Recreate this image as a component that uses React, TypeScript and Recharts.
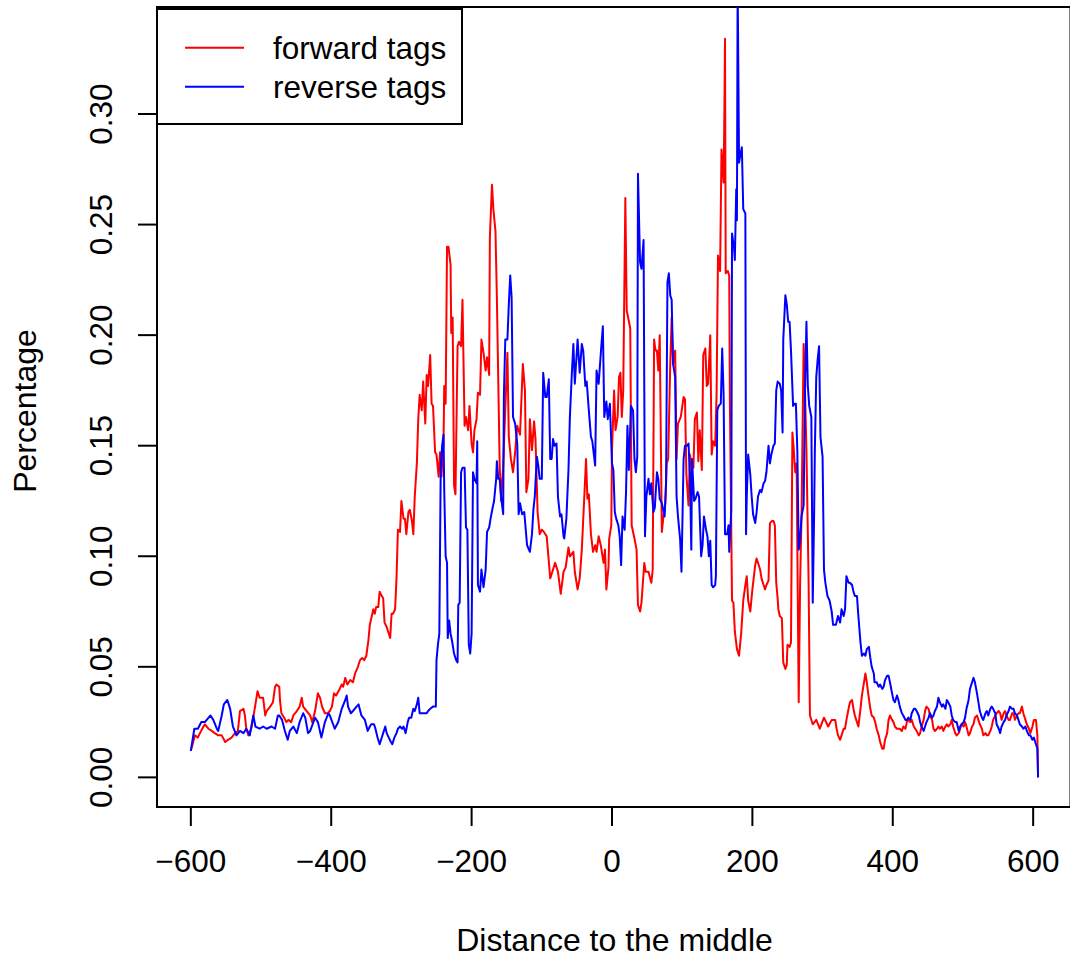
import React from 'react';
import { LineChart, Line, XAxis, YAxis, ReferenceArea, Legend } from 'recharts';

// [distance, percentage]
const forwardTags: [number, number][] = [
  [-600,0.012],[-594,0.019],[-590,0.018],[-587,0.020],[-582,0.023],[-580,0.024],[-575,0.022],[-570,0.021],[-566,0.020],[-561,0.019],
  [-556,0.019],[-551,0.016],[-547,0.017],[-542,0.018],[-537,0.020],[-533,0.021],[-530,0.030],[-525,0.031],[-523,0.028],[-521,0.022],
  [-518,0.019],[-514,0.022],[-509,0.031],[-505,0.039],[-502,0.036],[-497,0.036],[-494,0.028],[-492,0.030],[-487,0.032],[-483,0.034],
  [-480,0.041],[-478,0.042],[-474,0.041],[-473,0.035],[-471,0.029],[-467,0.027],[-464,0.025],[-461,0.026],[-457,0.025],[-454,0.028],
  [-449,0.030],[-445,0.032],[-442,0.036],[-440,0.032],[-435,0.030],[-430,0.028],[-427,0.025],[-423,0.030],[-421,0.034],[-419,0.038],
  [-416,0.036],[-413,0.032],[-409,0.029],[-405,0.029],[-402,0.030],[-399,0.032],[-396,0.038],[-393,0.037],[-388,0.040],[-385,0.042],
  [-383,0.041],[-380,0.045],[-377,0.042],[-373,0.044],[-369,0.043],[-366,0.047],[-362,0.050],[-359,0.053],[-356,0.054],[-353,0.053],
  [-350,0.055],[-347,0.062],[-345,0.069],[-340,0.076],[-338,0.074],[-336,0.077],[-333,0.077],[-331,0.084],[-328,0.082],[-326,0.081],
  [-324,0.070],[-321,0.068],[-319,0.066],[-316,0.063],[-314,0.074],[-312,0.074],[-309,0.076],[-307,0.090],[-305,0.112],[-302,0.111],
  [-300,0.125],[-297,0.117],[-295,0.117],[-293,0.110],[-290,0.120],[-288,0.121],[-285,0.116],[-283,0.110],[-281,0.127],[-278,0.142],
  [-276,0.162],[-274,0.173],[-271,0.166],[-269,0.179],[-266,0.160],[-264,0.182],[-262,0.177],[-259,0.191],[-257,0.169],[-255,0.168],
  [-252,0.147],[-250,0.146],[-247,0.136],[-245,0.147],[-243,0.136],[-240,0.152],[-239,0.177],[-237,0.169],[-235,0.240],[-233,0.240],
  [-230,0.232],[-229,0.201],[-227,0.208],[-225,0.132],[-223,0.128],[-220,0.195],[-218,0.197],[-215,0.195],[-213,0.216],[-210,0.159],
  [-208,0.163],[-205,0.157],[-203,0.168],[-200,0.151],[-198,0.147],[-196,0.157],[-193,0.162],[-191,0.174],[-188,0.173],[-186,0.198],
  [-183,0.192],[-180,0.184],[-178,0.190],[-175,0.182],[-174,0.244],[-171,0.268],[-169,0.257],[-166,0.247],[-164,0.217],[-160,0.141],
  [-158,0.125],[-155,0.141],[-152,0.167],[-149,0.192],[-147,0.154],[-144,0.144],[-141,0.138],[-138,0.147],[-135,0.159],[-133,0.157],
  [-131,0.155],[-127,0.187],[-124,0.175],[-122,0.129],[-119,0.135],[-117,0.162],[-114,0.148],[-111,0.161],[-109,0.153],[-106,0.120],
  [-103,0.110],[-100,0.112],[-97,0.111],[-93,0.109],[-88,0.090],[-84,0.094],[-81,0.097],[-77,0.093],[-73,0.083],[-69,0.093],
  [-66,0.095],[-62,0.104],[-60,0.100],[-55,0.102],[-53,0.093],[-49,0.085],[-46,0.090],[-43,0.103],[-39,0.130],[-37,0.144],
  [-35,0.126],[-33,0.128],[-30,0.110],[-27,0.102],[-24,0.105],[-22,0.102],[-19,0.109],[-16,0.105],[-12,0.097],[-10,0.103],
  [-8,0.085],[-5,0.095],[-4,0.108],[-1,0.114],[0,0.148],[3,0.175],[5,0.157],[8,0.163],[10,0.181],[12,0.183],
  [14,0.163],[16,0.175],[19,0.262],[21,0.211],[23,0.208],[26,0.203],[28,0.114],[32,0.108],[35,0.103],[37,0.078],
  [40,0.075],[42,0.079],[46,0.097],[48,0.093],[52,0.093],[56,0.088],[58,0.094],[60,0.198],[62,0.193],[64,0.193],
  [66,0.184],[68,0.200],[71,0.111],[73,0.117],[76,0.124],[78,0.142],[80,0.144],[83,0.187],[85,0.208],[87,0.187],
  [90,0.193],[92,0.144],[94,0.160],[98,0.163],[102,0.172],[104,0.171],[106,0.137],[109,0.123],[111,0.146],[114,0.140],
  [116,0.140],[118,0.162],[121,0.165],[123,0.143],[125,0.157],[128,0.139],[130,0.191],[133,0.194],[135,0.177],[137,0.178],
  [140,0.200],[142,0.146],[144,0.152],[147,0.150],[149,0.173],[151,0.236],[154,0.229],[156,0.284],[159,0.269],[160,0.298],
  [161,0.334],[162,0.228],[165,0.229],[167,0.227],[168,0.168],[171,0.080],[173,0.079],[175,0.066],[178,0.058],[181,0.055],
  [184,0.065],[187,0.080],[190,0.087],[192,0.091],[194,0.080],[197,0.075],[200,0.085],[204,0.096],[206,0.099],[208,0.097],
  [211,0.094],[213,0.090],[216,0.087],[218,0.085],[220,0.087],[223,0.089],[225,0.115],[228,0.116],[230,0.116],[232,0.114],
  [234,0.088],[236,0.081],[237,0.076],[239,0.073],[242,0.072],[244,0.052],[247,0.049],[249,0.051],[250,0.060],[253,0.059],
  [255,0.061],[257,0.156],[259,0.148],[261,0.138],[263,0.142],[266,0.034],[268,0.088],[270,0.118],[273,0.196],[275,0.174],
  [277,0.148],[280,0.091],[282,0.028],[286,0.024],[291,0.026],[296,0.022],[302,0.027],[308,0.023],[313,0.026],[318,0.026],
  [320,0.022],[322,0.019],[325,0.017],[327,0.019],[330,0.022],[332,0.022],[334,0.026],[337,0.031],[339,0.034],[342,0.035],
  [344,0.031],[346,0.028],[349,0.025],[351,0.023],[354,0.031],[356,0.037],[359,0.043],[361,0.047],[363,0.043],[365,0.038],
  [368,0.031],[370,0.028],[373,0.027],[375,0.025],[377,0.022],[380,0.019],[382,0.016],[385,0.013],[387,0.013],[389,0.017],
  [392,0.020],[394,0.026],[396,0.028],[399,0.026],[401,0.025],[403,0.023],[406,0.022],[408,0.022],[410,0.022],[413,0.021],
  [415,0.023],[418,0.022],[420,0.025],[422,0.026],[425,0.025],[427,0.026],[430,0.023],[432,0.022],[434,0.021],[437,0.019],
  [439,0.020],[441,0.023],[444,0.026],[446,0.030],[448,0.032],[451,0.031],[453,0.028],[456,0.026],[458,0.022],[460,0.021],
  [463,0.022],[465,0.023],[467,0.022],[470,0.023],[472,0.021],[475,0.023],[477,0.024],[479,0.023],[482,0.024],[484,0.026],
  [486,0.023],[489,0.020],[491,0.019],[494,0.020],[496,0.022],[498,0.024],[501,0.023],[503,0.025],[505,0.023],[508,0.019],
  [510,0.020],[513,0.023],[515,0.024],[517,0.027],[520,0.028],[522,0.026],[524,0.024],[527,0.022],[529,0.019],[532,0.020],
  [534,0.019],[536,0.019],[539,0.021],[541,0.023],[543,0.026],[546,0.028],[548,0.029],[551,0.030],[553,0.029],[555,0.026],
  [558,0.029],[560,0.030],[562,0.028],[565,0.026],[567,0.026],[570,0.029],[572,0.029],[574,0.026],[577,0.028],[579,0.029],
  [581,0.029],[584,0.032],[586,0.029],[589,0.026],[591,0.024],[594,0.022],[596,0.020],[599,0.023],[601,0.026],[604,0.026],
  [606,0.019],[607,0.000],
];

const reverseTags: [number, number][] = [
  [-600,0.012],[-595,0.022],[-590,0.022],[-585,0.025],[-580,0.025],[-572,0.028],[-568,0.026],[-563,0.022],[-561,0.021],[-556,0.028],
  [-553,0.033],[-548,0.035],[-544,0.031],[-540,0.023],[-535,0.019],[-530,0.021],[-525,0.020],[-521,0.022],[-516,0.019],[-511,0.028],
  [-508,0.023],[-502,0.022],[-497,0.023],[-492,0.022],[-485,0.023],[-480,0.022],[-476,0.028],[-474,0.028],[-470,0.026],[-466,0.021],
  [-462,0.017],[-459,0.021],[-454,0.023],[-449,0.020],[-445,0.025],[-440,0.029],[-437,0.027],[-433,0.020],[-430,0.021],[-423,0.027],
  [-419,0.025],[-414,0.018],[-409,0.025],[-404,0.029],[-402,0.028],[-395,0.022],[-390,0.025],[-385,0.031],[-380,0.035],[-378,0.037],
  [-376,0.032],[-372,0.029],[-369,0.030],[-364,0.032],[-361,0.033],[-357,0.028],[-352,0.026],[-348,0.021],[-345,0.023],[-343,0.024],
  [-339,0.024],[-337,0.022],[-334,0.018],[-331,0.015],[-328,0.018],[-326,0.020],[-323,0.023],[-321,0.020],[-318,0.018],[-315,0.016],
  [-313,0.015],[-310,0.018],[-307,0.020],[-305,0.022],[-302,0.023],[-299,0.022],[-297,0.023],[-294,0.020],[-291,0.025],[-289,0.027],
  [-286,0.027],[-283,0.031],[-281,0.030],[-278,0.033],[-276,0.036],[-274,0.029],[-271,0.029],[-269,0.029],[-266,0.029],[-264,0.029],
  [-262,0.030],[-259,0.031],[-255,0.032],[-251,0.032],[-250,0.053],[-248,0.060],[-246,0.065],[-244,0.140],[-242,0.150],[-240,0.155],
  [-239,0.130],[-237,0.100],[-235,0.097],[-234,0.063],[-232,0.071],[-230,0.065],[-228,0.062],[-225,0.056],[-222,0.053],[-220,0.052],
  [-219,0.078],[-217,0.079],[-215,0.138],[-213,0.140],[-210,0.140],[-208,0.113],[-206,0.112],[-204,0.060],[-202,0.056],[-200,0.065],
  [-198,0.138],[-196,0.135],[-193,0.133],[-192,0.152],[-191,0.087],[-188,0.084],[-186,0.094],[-183,0.086],[-180,0.094],[-178,0.111],
  [-175,0.113],[-173,0.117],[-170,0.122],[-168,0.125],[-165,0.135],[-164,0.143],[-162,0.135],[-160,0.135],[-158,0.127],[-155,0.119],
  [-154,0.173],[-152,0.198],[-149,0.198],[-147,0.214],[-145,0.227],[-143,0.217],[-141,0.163],[-138,0.160],[-135,0.151],[-133,0.119],
  [-131,0.124],[-128,0.119],[-125,0.120],[-121,0.105],[-117,0.102],[-114,0.110],[-112,0.121],[-110,0.127],[-107,0.145],[-105,0.141],
  [-103,0.135],[-100,0.135],[-98,0.183],[-95,0.172],[-93,0.172],[-90,0.180],[-88,0.144],[-86,0.144],[-84,0.153],[-82,0.150],
  [-79,0.151],[-77,0.127],[-74,0.118],[-72,0.119],[-69,0.109],[-68,0.108],[-65,0.117],[-62,0.139],[-60,0.163],[-57,0.184],
  [-55,0.196],[-53,0.178],[-49,0.198],[-46,0.183],[-43,0.196],[-41,0.193],[-38,0.177],[-36,0.179],[-33,0.166],[-30,0.154],
  [-28,0.152],[-24,0.141],[-22,0.184],[-19,0.178],[-17,0.187],[-15,0.196],[-13,0.204],[-11,0.163],[-8,0.170],[-6,0.162],
  [-3,0.169],[0,0.142],[2,0.139],[4,0.120],[6,0.117],[9,0.114],[11,0.109],[13,0.096],[15,0.118],[18,0.112],
  [20,0.129],[22,0.159],[24,0.139],[27,0.168],[30,0.166],[32,0.144],[34,0.138],[36,0.145],[37,0.273],[40,0.233],
  [42,0.230],[45,0.243],[47,0.109],[49,0.127],[52,0.135],[54,0.128],[56,0.133],[59,0.120],[61,0.122],[64,0.138],
  [66,0.135],[68,0.126],[71,0.124],[75,0.118],[77,0.133],[79,0.224],[81,0.228],[83,0.218],[85,0.216],[87,0.187],
  [90,0.181],[92,0.127],[94,0.118],[97,0.108],[99,0.093],[102,0.144],[104,0.150],[107,0.150],[109,0.151],[111,0.137],
  [113,0.103],[114,0.144],[117,0.125],[119,0.126],[122,0.129],[124,0.127],[125,0.118],[127,0.100],[129,0.105],[131,0.118],
  [134,0.112],[136,0.109],[138,0.100],[140,0.107],[142,0.087],[144,0.086],[147,0.087],[148,0.091],[150,0.166],[152,0.168],
  [155,0.169],[157,0.194],[159,0.173],[161,0.110],[164,0.110],[166,0.114],[167,0.102],[170,0.121],[171,0.246],[174,0.239],
  [175,0.234],[177,0.266],[178,0.252],[179,0.360],[181,0.278],[182,0.280],[185,0.285],[187,0.257],[190,0.255],[191,0.110],
  [192,0.127],[194,0.146],[197,0.137],[199,0.127],[201,0.119],[204,0.115],[206,0.120],[208,0.127],[211,0.130],[213,0.129],
  [216,0.133],[218,0.134],[220,0.138],[223,0.150],[225,0.142],[227,0.146],[230,0.150],[232,0.151],[234,0.175],[236,0.179],
  [239,0.178],[241,0.175],[243,0.156],[244,0.198],[247,0.218],[249,0.214],[251,0.206],[253,0.206],[255,0.193],[258,0.168],
  [260,0.169],[262,0.169],[264,0.148],[266,0.103],[268,0.108],[270,0.118],[273,0.123],[275,0.175],[277,0.206],[279,0.177],
  [281,0.168],[284,0.163],[286,0.079],[288,0.120],[289,0.148],[291,0.181],[293,0.189],[295,0.195],[297,0.154],[300,0.145],
  [302,0.094],[304,0.088],[307,0.082],[310,0.080],[313,0.075],[315,0.069],[319,0.069],[322,0.073],[325,0.070],[327,0.076],
  [330,0.073],[332,0.076],[334,0.091],[337,0.088],[339,0.088],[342,0.087],[344,0.084],[346,0.082],[349,0.082],[351,0.073],
  [354,0.061],[356,0.055],[359,0.056],[361,0.055],[363,0.058],[366,0.059],[368,0.054],[370,0.050],[373,0.047],[374,0.043],
  [377,0.043],[380,0.041],[382,0.042],[385,0.040],[387,0.041],[389,0.044],[392,0.046],[394,0.046],[396,0.043],[399,0.038],
  [401,0.035],[403,0.034],[406,0.037],[408,0.035],[410,0.032],[413,0.029],[415,0.028],[418,0.026],[420,0.026],[422,0.027],
  [425,0.026],[427,0.029],[430,0.031],[432,0.031],[434,0.030],[437,0.028],[439,0.025],[441,0.023],[444,0.021],[446,0.023],
  [448,0.025],[451,0.027],[453,0.029],[456,0.027],[458,0.028],[460,0.030],[463,0.032],[465,0.036],[467,0.034],[470,0.032],
  [472,0.033],[475,0.031],[477,0.035],[479,0.034],[482,0.032],[484,0.028],[486,0.026],[489,0.025],[491,0.025],[494,0.021],
  [496,0.023],[498,0.024],[501,0.025],[503,0.027],[505,0.031],[508,0.035],[510,0.040],[513,0.043],[515,0.045],[517,0.043],
  [520,0.038],[522,0.034],[524,0.030],[527,0.027],[529,0.026],[532,0.029],[534,0.030],[536,0.028],[539,0.031],[541,0.032],
  [543,0.031],[546,0.029],[548,0.024],[551,0.022],[553,0.020],[555,0.023],[558,0.025],[560,0.026],[562,0.028],[565,0.030],
  [567,0.032],[570,0.031],[572,0.031],[574,0.029],[577,0.028],[579,0.026],[581,0.024],[584,0.023],[586,0.022],[589,0.023],
  [591,0.021],[594,0.019],[596,0.019],[599,0.017],[601,0.018],[604,0.015],[606,0.013],[607,0.000],
];

const xTicks = [-600, -400, -200, 0, 200, 400, 600];
const yTicks = [0, 0.05, 0.1, 0.15, 0.2, 0.25, 0.3];
const seriesNames = ['forward tags', 'reverse tags'];
const seriesColors = ['#FF0000', '#0000FF'];
const xTitle = 'Distance to the middle';
const yTitle = 'Percentage';

const X_DOMAIN: [number, number] = [-648.2, 653.2];
const Y_DOMAIN: [number, number] = [-0.0134, 0.3484];

const FONT = '"Liberation Sans", Arial, Helvetica, sans-serif';
const FS = 31.5;
const TITLE_FS = 32;

const toRows = (pts: [number, number][]) => pts.map(([x, y]) => ({ x, y }));
const forwardRows = toRows(forwardTags);
const reverseRows = toRows(reverseTags);

function XTick(props: any) {
  const { x, y, payload } = props;
  const label = String(payload.value).replace('-', '\u2212');
  return (
    <g>
      <line x1={x} x2={x} y1={y} y2={y + 19} stroke="#000" strokeWidth={2} />
      <text x={x} y={y + 65} textAnchor="middle" fontSize={FS} fontFamily={FONT} fill="#000">
        {label}
      </text>
    </g>
  );
}

function YTick(props: any) {
  const { x, y, payload } = props;
  const tx = x - 45;
  return (
    <g>
      <line x1={x - 19} x2={x} y1={y} y2={y} stroke="#000" strokeWidth={2} />
      <text
        x={tx}
        y={y}
        transform={`rotate(-90 ${tx} ${y})`}
        textAnchor="middle"
        fontSize={FS}
        fontFamily={FONT}
        fill="#000"
      >
        {Number(payload.value).toFixed(2)}
      </text>
    </g>
  );
}

function XTitle() {
  return (
    <text x={614.5} y={951} textAnchor="middle" fontSize={TITLE_FS} fontFamily={FONT} fill="#000">
      {xTitle}
    </text>
  );
}

function YTitle() {
  return (
    <text
      x={36}
      y={411}
      transform="rotate(-90 36 411)"
      textAnchor="middle"
      fontSize={TITLE_FS}
      fontFamily={FONT}
      fill="#000"
    >
      {yTitle}
    </text>
  );
}

function LegendBox(props: any) {
  const payload = props.payload || [];
  return (
    <svg width={308} height={118} style={{ display: 'block' }}>
      <rect x={1} y={1} width={305} height={115} fill="#fff" stroke="#000" strokeWidth={2} />
      {payload.map((p: any, i: number) => (
        <g key={i}>
          <line x1={29} x2={88} y1={39.7 + i * 39} y2={39.7 + i * 39} stroke={p.color} strokeWidth={2} />
          <text x={117} y={51 + i * 39} fontSize={FS} fontFamily={FONT} fill="#000">
            {p.value}
          </text>
        </g>
      ))}
    </svg>
  );
}

export default function App() {
  return (
    <div style={{ position: 'absolute', left: 0, top: 0, width: 1070, height: 959, overflow: 'hidden', background: '#fff' }}>
      <LineChart width={1090} height={959} margin={{ top: 7, right: 19.5, bottom: 0, left: 0 }}>
        <XAxis
          type="number"
          dataKey="x"
          domain={X_DOMAIN}
          allowDataOverflow
          ticks={xTicks}
          interval={0}
          tickSize={0}
          tickMargin={0}
          tickLine={false}
          axisLine={false}
          tick={XTick}
          height={152}
          label={<XTitle />}
        />
        <YAxis
          type="number"
          domain={Y_DOMAIN}
          allowDataOverflow
          ticks={yTicks}
          interval={0}
          tickSize={0}
          tickMargin={0}
          tickLine={false}
          axisLine={false}
          tick={YTick}
          width={157}
          label={<YTitle />}
        />
        <ReferenceArea
          x1={X_DOMAIN[0]}
          x2={X_DOMAIN[1]}
          y1={Y_DOMAIN[0]}
          y2={Y_DOMAIN[1]}
          fill="none"
          fillOpacity={0}
          stroke="#000"
          strokeWidth={2}
          ifOverflow="visible"
        />
        <Line
          data={forwardRows}
          dataKey="y"
          name={seriesNames[0]}
          type="linear"
          stroke={seriesColors[0]}
          strokeWidth={2}
          strokeLinejoin="round"
          dot={false}
          activeDot={false}
          isAnimationActive={false}
        />
        <Line
          data={reverseRows}
          dataKey="y"
          name={seriesNames[1]}
          type="linear"
          stroke={seriesColors[1]}
          strokeWidth={2}
          strokeLinejoin="round"
          dot={false}
          activeDot={false}
          isAnimationActive={false}
        />
        <Legend
          layout="vertical"
          align="center"
          verticalAlign="middle"
          wrapperStyle={{ left: 156, top: 8, width: 308, height: 118, margin: 0, padding: 0 }}
          content={<LegendBox />}
        />
      </LineChart>
    </div>
  );
}
